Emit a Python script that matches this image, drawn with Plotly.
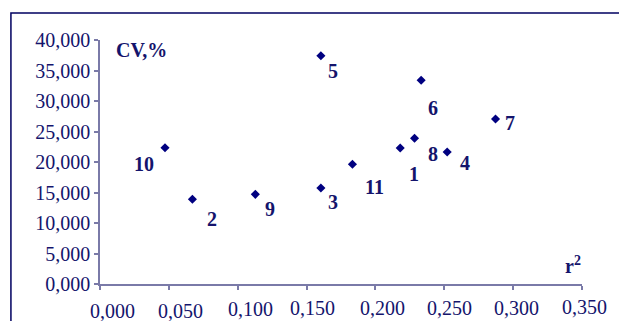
import plotly.graph_objects as go

# Data
labels = ["1", "2", "3", "4", "5", "6", "7", "8", "9", "10", "11"]
r2 = [0.218, 0.0671, 0.1604, 0.2521, 0.1604, 0.2332, 0.2872, 0.2284, 0.1128, 0.0472, 0.1833]
cv = [22.30, 13.89, 15.74, 21.64, 37.43, 33.39, 27.05, 23.89, 14.70, 22.34, 19.62]

x_ticks = [0, 0.05, 0.10, 0.15, 0.20, 0.25, 0.30, 0.35]
x_tick_text = ["0,000", "0,050", "0,100", "0,150", "0,200", "0,250", "0,300", "0,350"]
y_ticks = [0, 5, 10, 15, 20, 25, 30, 35, 40]

# styles: pixel offsets of labels
label_dx = [14, 20, 12.6, 17.7, 12.6, 12, 14, 18.7, 15, -21, 21.7]
label_dy = [26, 20, 13.7, 10.7, 15, 28, 3.7, 15.7, 15, 16, 22.4]
xtick_dx = [12.9, 11.2, 12.7, 5.8, 7, 5.5, 3.4, 2.6]
xtick_dy = [26.5, 26.5, 25, 24, 24, 24, 24, 22.5]

NAVY = "#000080"
TEXT = "#14146c"
AXIS = "#7a7aa8"
FONT = "Liberation Serif"

fig = go.Figure()
fig.add_trace(go.Scatter(
    x=r2, y=cv, mode="markers",
    marker=dict(symbol="diamond", size=7, color=NAVY),
    hoverinfo="skip", showlegend=False, cliponaxis=False,
))

for xv, yv, t, dx, dy in zip(r2, cv, labels, label_dx, label_dy):
    fig.add_annotation(x=xv, y=yv, text="<b>" + t + "</b>", showarrow=False,
                       xshift=dx, yshift=-dy, xanchor="center", yanchor="middle",
                       font=dict(family=FONT, size=20, color=TEXT))

# x tick labels (slightly irregular placement as in the reference)
for xv, t, dx, dy in zip(x_ticks, x_tick_text, xtick_dx, xtick_dy):
    fig.add_annotation(x=xv, xref="x", y=0, yref="paper", text=t, showarrow=False,
                       xshift=dx, yshift=-dy, xanchor="center", yanchor="middle",
                       font=dict(family=FONT, size=20, color=TEXT))

fig.add_annotation(xref="paper", yref="paper", x=0.0866, y=0.959,
                   xanchor="center", yanchor="middle",
                   text="<b>CV,%</b>", showarrow=False,
                   font=dict(family=FONT, size=20, color=TEXT))
fig.add_annotation(xref="paper", yref="paper", x=0.982, y=0.078,
                   xanchor="center", yanchor="middle",
                   text="<b>r<sup>2</sup></b>", showarrow=False,
                   font=dict(family=FONT, size=20, color=TEXT))

# outer frame
fig.add_shape(type="rect", xref="paper", yref="paper",
              x0=-0.1848, y0=1.1107, x1=1.3, y1=-0.4,
              line=dict(color="#000060", width=1.5), fillcolor="rgba(0,0,0,0)")

fig.update_xaxes(range=[0, 0.35], tickvals=x_ticks, showticklabels=False,
                 showgrid=False, zeroline=False, showline=True,
                 linecolor=AXIS, linewidth=1.5, ticks="outside", ticklen=4,
                 tickcolor=AXIS, tickwidth=1.5, automargin=False)
fig.update_yaxes(range=[0, 40], tickvals=y_ticks, tickformat=".3f",
                 showgrid=False, zeroline=False, showline=True,
                 linecolor=AXIS, linewidth=1.5, ticks="outside", ticklen=4,
                 tickcolor=AXIS, tickwidth=1.5, automargin=False,
                 tickfont=dict(family=FONT, size=20, color=TEXT))

fig.update_layout(
    width=619, height=321,
    margin=dict(l=100, r=37.3, t=40, b=37, autoexpand=False),
    paper_bgcolor="white", plot_bgcolor="white",
    separators=", ",
    showlegend=False,
)

fig.write_html("out.html", config={"displayModeBar": False},
               post_script="document.body.style.margin='0px';document.body.style.overflow='hidden';")
